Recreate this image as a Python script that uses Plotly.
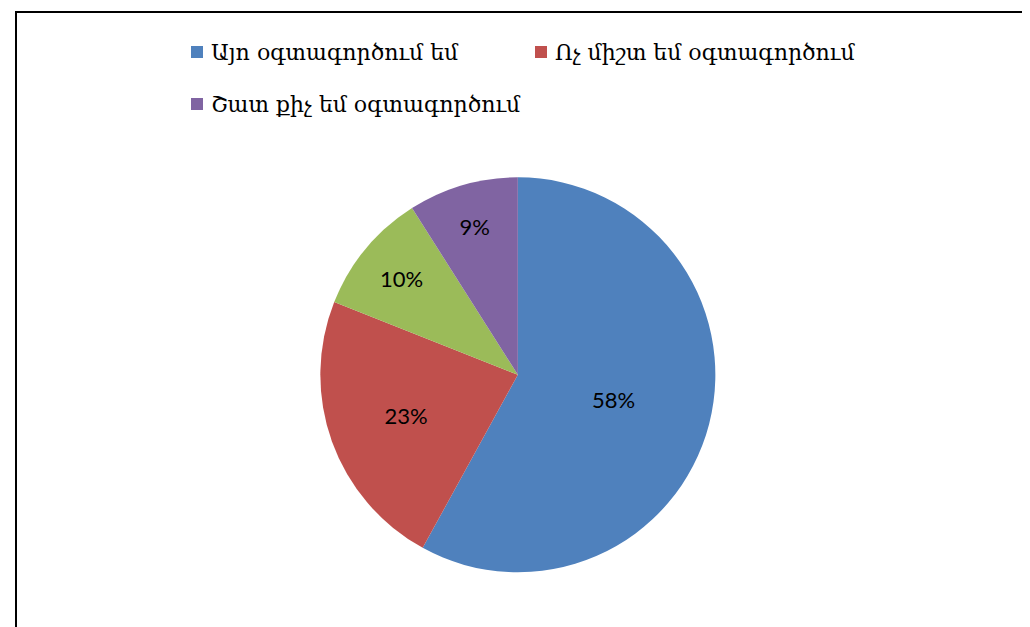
import plotly.graph_objects as go

labels = ["Այո օգտագործում եմ", "Ոչ միշտ եմ օգտագործում", "Այլ", "Շատ քիչ եմ օգտագործում"]
values = [58, 23, 10, 9]
colors = ["#4F81BD", "#C0504D", "#9BBB59", "#8064A2"]
legend_items = [0, 1, 3]  # slices shown in the legend

W, H = 1030, 627

fig = go.Figure()
fig.add_trace(go.Pie(
    labels=labels,
    values=values,
    sort=False,
    direction="clockwise",
    rotation=0,
    marker=dict(colors=colors, line=dict(color="white", width=0)),
    textinfo="percent",
    textposition="inside",
    insidetextorientation="horizontal",
    textfont=dict(family="Lato, Carlito, sans-serif", size=22, color="black"),
    showlegend=False,
    domain=dict(x=[0.285, 0.705], y=[0.10, 0.73]),
    hoverinfo="label+percent",
))

# Manual legend (the green slice has no legend entry in the reference)
pos = [(183, 44), (527, 44), (183, 96)]
shapes = [dict(type="rect", xref="paper", yref="paper",
               x0=8 / W, x1=1021 / W, y0=-0.05, y1=1 - 4 / H,
               line=dict(color="black", width=2), fillcolor="rgba(0,0,0,0)")]
annotations = []
for (px, py), i in zip(pos, legend_items):
    shapes.append(dict(type="rect", xref="paper", yref="paper",
                       x0=px / W, x1=(px + 12) / W,
                       y0=1 - (py + 6) / H, y1=1 - (py - 6) / H,
                       fillcolor=colors[i], line=dict(width=0)))
    annotations.append(dict(text=labels[i], xref="paper", yref="paper",
                            x=(px + 18) / W, y=1 - py / H,
                            xanchor="left", yanchor="middle", showarrow=False,
                            font=dict(family="DejaVu Serif", size=22, color="black")))

fig.update_layout(
    width=W, height=H,
    margin=dict(l=0, r=0, t=0, b=0),
    paper_bgcolor="white",
    plot_bgcolor="white",
    shapes=shapes,
    annotations=annotations,
)

fig.write_html("out.html")
